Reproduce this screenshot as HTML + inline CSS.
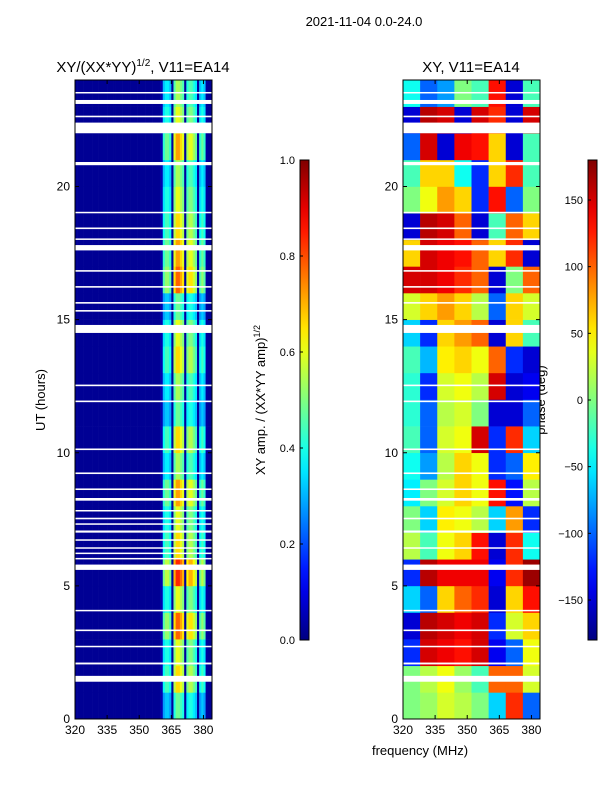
<!DOCTYPE html>
<html><head><meta charset="utf-8"><style>
body{margin:0;background:#fff;font-family:"Liberation Sans",sans-serif;}
svg text{font-family:"Liberation Sans",sans-serif;}
</style></head><body>
<svg id="fig" width="600" height="800" xmlns="http://www.w3.org/2000/svg">
<text x="364" y="26" font-size="13" text-anchor="middle">2021-11-04 0.0-24.0</text>
<text x="143" y="72" font-size="15" text-anchor="middle">XY/(XX*YY)<tspan font-size="10" dy="-6">1/2</tspan><tspan dy="6">, V11=EA14</tspan></text>
<text x="471" y="72" font-size="15" text-anchor="middle">XY, V11=EA14</text>
<text x="420" y="755" font-size="13" text-anchor="middle">frequency (MHz)</text>
<text transform="translate(45,400) rotate(-90)" font-size="13" text-anchor="middle">UT (hours)</text>
<text transform="translate(265,400) rotate(-90)" font-size="13" text-anchor="middle">XY amp. / (XX*YY amp)<tspan font-size="9" dy="-5">1/2</tspan></text>
<text transform="translate(545,400) rotate(-90)" font-size="13" text-anchor="middle">phase (deg)</text>
<g id="left"></g>
<g id="right"></g>
<g id="axes"></g>
</svg>
<script>
// hours 0..23 x frequency bins 320..384 (8 MHz)
const phaseRows = [
[0,10,30,20,0,-60,120,-100],
[0,20,40,10,-20,100,100,30],
[-120,150,140,130,150,-140,-100,40],
[-150,160,150,140,150,-120,30,60],
[-60,-100,60,100,120,-150,60,130],
[-120,160,140,140,140,-140,120,170],
[20,-20,40,60,130,-150,120,-40],
[0,-60,50,40,20,-60,80,-120],
[-50,0,30,60,40,130,-130,20],
[-40,-80,20,60,40,-120,-100,50],
[-20,-100,30,40,150,-120,120,-60],
[-30,-100,20,30,0,-150,-150,-100],
[-30,-120,30,40,20,150,-150,-140],
[-20,-70,50,60,40,100,-120,-150],
[-60,-120,60,80,100,-150,60,-20],
[30,60,80,60,20,-100,60,30],
[150,150,140,120,100,-150,0,100],
[60,150,140,130,100,60,120,-150],
[-150,160,150,100,-150,-20,100,60],
[0,40,80,60,-120,130,-100,0],
[-20,60,60,-40,-120,60,120,-20],
[-100,150,-150,140,130,60,-150,-20],
[-150,160,150,-150,150,120,-150,150],
[-40,-100,-80,0,-20,130,-150,-20]];
const phaseFreqs = [320,328,336,344,352,360,368,376];
// amplitude frequency profile, 1 MHz bins 320..383
const ampProfile = [0.02,0.02,0.02,0.02,0.02,0.02,0.02,0.02,0.02,0.02,0.02,0.02,0.02,0.02,0.02,0.02,0.02,0.02,0.02,0.02,
0.02,0.02,0.02,0.02,0.02,0.02,0.02,0.02,0.02,0.02,0.02,0.02,0.02,0.02,0.02,0.02,0.02,0.02,0.02,0.02,
0.05,0.35,0.4,0.4,0.35,0.03,0.5,0.6,0.6,0.55,0.5,0.03,0.45,0.5,0.5,0.45,0.4,0.03,0.35,0.4,0.35,0.03,0.02,0.02];
// per-hour gain on bright stripes
const ampGain = [0.8,1.1,1.0,1.3,1.0,1.4,1.1,1.0,1.2,0.9,1.1,0.8,0.9,1.1,1.0,0.8,1.3,1.2,1.1,1.0,0.9,1.2,1.0,0.9];
const gaps = [[1.4,1.62],[2.05,2.12],[2.7,2.75],[3.3,3.36],[4.05,4.1],[5.6,5.8],[6.4,6.45],[7.0,7.08],[7.5,7.56],[8.2,8.3],[8.6,8.66],[9.2,9.26],[10.1,10.16],[11.9,11.96],[12.5,12.56],[14.5,14.8],[15.6,15.66],[16.2,16.26],[16.8,16.86],[17.6,17.8],[18.0,18.05],[18.4,18.46],[19.0,19.05],[20.8,20.92],[22.0,22.4],[22.6,22.66],[23.1,23.25],[23.5,23.55]];
const leftGaps = [[6.0,6.05],[6.2,6.25],[6.7,6.75],[7.3,7.35],[7.8,7.85],[15.3,15.36]];
const yTicks=[0,5,10,15,20], xTicks=[320,335,350,365,380];
const ampTicks=[0.0,0.2,0.4,0.6,0.8,1.0], phTicks=[-150,-100,-50,0,50,100,150];

const NS="http://www.w3.org/2000/svg";
const Y0=719,Y1=80, fy=h=>Y0-(h/24)*(Y0-Y1);
const fxL=f=>75+(f-320)*137/64, fxR=f=>403+(f-320)*137/64;
function jet(v){v=Math.max(0,Math.min(1,v));
 const c=x=>Math.round(255*Math.max(0,Math.min(1,1.5-Math.abs(4*v-x))));
 return `rgb(${c(3)},${c(2)},${c(1)})`;}
function mk(tag,attrs,parent){const e=document.createElementNS(NS,tag);for(const k in attrs)e.setAttribute(k,attrs[k]);parent.appendChild(e);return e;}
const L=document.getElementById('left'),R=document.getElementById('right'),A=document.getElementById('axes'),S=document.getElementById('fig');
for(let h=0;h<24;h++)for(let i=0;i<ampProfile.length;i++){
 const v=ampProfile[i]>0.1?ampProfile[i]*ampGain[h]:ampProfile[i];
 const r=mk('rect',{x:fxL(320+i),y:fy(h+1),width:fxL(321+i)-fxL(320+i)+0.3,height:fy(h)-fy(h+1)+0.3,fill:jet(v)},L);
 
 }
for(let h=0;h<24;h++)for(let i=0;i<phaseFreqs.length;i++){
 const f0=phaseFreqs[i],f1=i+1<phaseFreqs.length?phaseFreqs[i+1]:384;
 const r=mk('rect',{x:fxR(f0),y:fy(h+1),width:fxR(f1)-fxR(f0)+0.3,height:fy(h)-fy(h+1)+0.3,fill:jet((phaseRows[h][i]+180)/360)},R);
 
 }
function drawGaps(g,x0,list){for(const [a,b] of list){const r=mk('rect',{x:x0,y:fy(b),width:137,height:Math.max(1.5,fy(a)-fy(b)),fill:'#fff'},g);
 
 }}
drawGaps(L,75,gaps);drawGaps(L,75,leftGaps);drawGaps(R,403,gaps);
for(const [x0,fx] of [[75,fxL],[403,fxR]]){
 mk('rect',{x:x0,y:Y1,width:137,height:Y0-Y1,fill:'none',stroke:'#000','stroke-width':1},A);
 for(const t of yTicks){const y=fy(t);mk('line',{x1:x0,x2:x0+4,y1:y,y2:y,stroke:'#000'},A);mk('line',{x1:x0+137,x2:x0+133,y1:y,y2:y,stroke:'#000'},A);
  const tx=mk('text',{x:x0-5,y:y+4,'font-size':12,'text-anchor':'end'},A);tx.textContent=t;
  
  }
 for(const t of xTicks){const x=fx(t);mk('line',{x1:x,x2:x,y1:Y0,y2:Y0-4,stroke:'#000'},A);mk('line',{x1:x,x2:x,y1:Y1,y2:Y1+4,stroke:'#000'},A);
  const tx=mk('text',{x:x,y:Y0+15,'font-size':12,'text-anchor':'middle'},A);tx.textContent=t;
  
  }}
const defs=mk('defs',{},S);const gr=mk('linearGradient',{id:'jetg',x1:0,y1:1,x2:0,y2:0},defs);
for(let i=0;i<=20;i++)mk('stop',{offset:i/20,'stop-color':jet(i/20)},gr);
for(const [cx,ticks,fmt,lo,hi,nm] of [[300,ampTicks,t=>t.toFixed(1),0,1,'amp-colorbar'],[588,phTicks,t=>t<0?'\u2212'+(-t):''+t,-180,180,'phase-colorbar']]){
 const cb=mk('rect',{x:cx,y:160,width:9,height:480,fill:'url(#jetg)',stroke:'#000','stroke-width':1},A);
 
 
 for(const t of ticks){const y=640-(t-lo)/(hi-lo)*480;
  mk('line',{x1:cx,x2:cx+3,y1:y,y2:y,stroke:'#000'},A);
  const tx=mk('text',{x:cx-5,y:y+4,'font-size':11,'text-anchor':'end'},A);tx.textContent=fmt(t);
  
  }}
</script>
</body></html>
